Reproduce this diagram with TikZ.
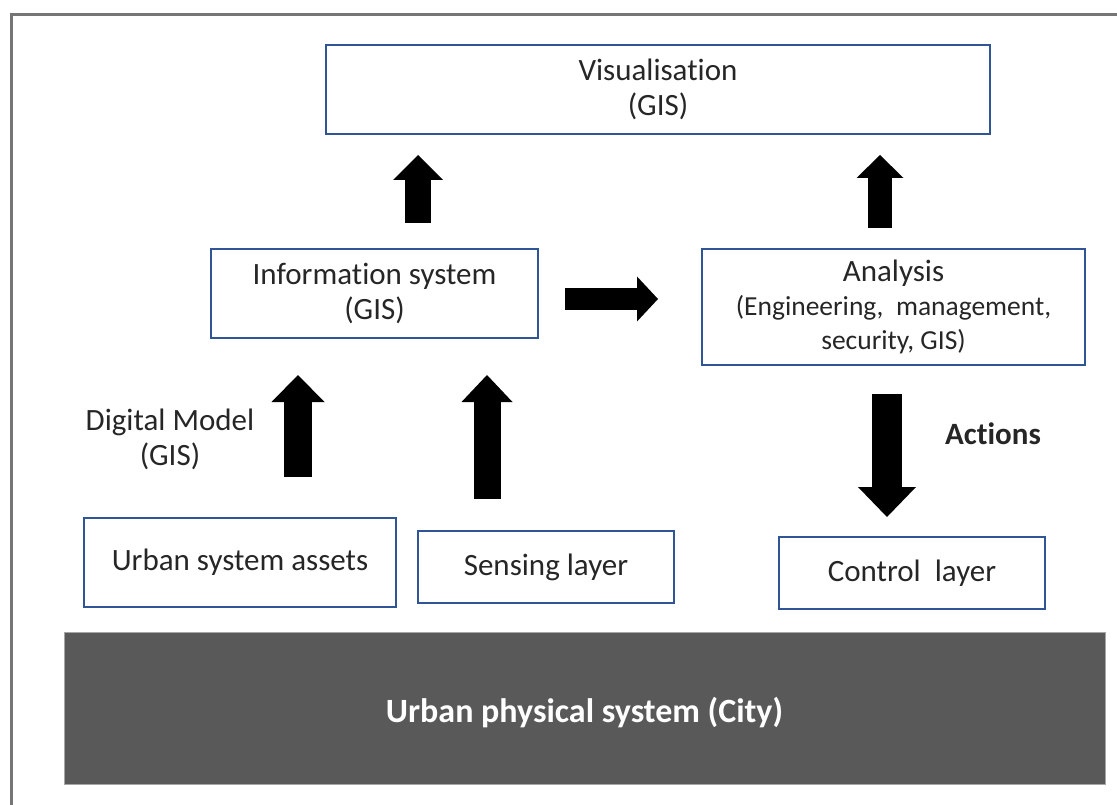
\documentclass[tikz,border=0pt]{standalone}
\usepackage{fontspec}
\setmainfont[Ligatures=NoCommon]{Carlito}
\usetikzlibrary{arrows.meta}
\usetikzlibrary{positioning}
\definecolor{boxblue}{HTML}{2F5597}
\definecolor{framegray}{HTML}{767676}
\definecolor{citygray}{HTML}{595959}
\definecolor{txtgray}{HTML}{262626}
\tikzset{
    layerbox/.style={draw=boxblue, line width=2.5pt, align=center, inner sep=0pt,
        text=txtgray, font=\fontsize{31}{35}\selectfont},
    citybox/.style={draw=gray!70, fill=citygray, line width=1pt, inner sep=0pt,
        text=white, font=\fontsize{34}{40}\selectfont\bfseries},
    plainlabel/.style={align=center, inner sep=0pt, text=txtgray,
        font=\fontsize{31}{35}\selectfont},
    fatarrow/.style n args={3}{draw=black, line width=#1,
        -{Triangle[width=#2, length=#3, line width=0pt]}}
}
\begin{document}
\begin{tikzpicture}[x=1pt,y=-1pt]
	\useasboundingbox (0,0) rectangle (1117,805);
	\draw[framegray, line width=3pt] (11,805) -- (11,15) -- (1117,15);
	% layers
	\node[layerbox, minimum width=664pt, minimum height=89pt] (vis) at (658,89.5) {Visualisation\\(GIS)};
	\node[layerbox, minimum width=327pt, minimum height=89pt] (info) at (374.5,293.5) {Information system\\(GIS)};
	\node[layerbox, minimum width=383pt, minimum height=116pt] (ana) at (893.5,307)
		{Analysis\\[-1pt]{\fontsize{27.5}{34}\selectfont (Engineering,\ \ management,}\\[-1pt]{\fontsize{27.5}{34}\selectfont security, GIS)}};
	\node[layerbox, minimum width=312pt, minimum height=89pt] (assets) at (240,562.5) {Urban system assets};
	\node[layerbox, minimum width=256pt, minimum height=72pt] (sensing) at (546,567) {Sensing layer};
	\node[layerbox, minimum width=266pt, minimum height=72pt] (control) at (912,573) {Control\ \ layer};
	\node[citybox, minimum width=1041pt, minimum height=152pt, text height=34pt] (city) at (584.5,708) {Urban physical system (City)};
	% labels
	\node[plainlabel] (digital) at (170,439.5) {Digital Model\\(GIS)};
	\node[plainlabel, font=\fontsize{31}{35}\selectfont\bfseries] (actions) at (993,434) {Actions};
	% arrow ends
	\coordinate (infoOut) at (418,223);
	\coordinate (visInL) at (418,155);
	\coordinate (anaOut) at (880,228);
	\coordinate (visInR) at (880,155);
	\coordinate (infoToAna) at (565,299);
	\coordinate (anaIn) at (658,299);
	\coordinate (assetsOut) at (298,477);
	\coordinate (infoInL) at (298,375);
	\coordinate (sensingOut) at (487,499);
	\coordinate (infoInR) at (487,375);
	\coordinate (anaDown) at (887,394);
	\coordinate (controlIn) at (887,517);
	\draw[fatarrow={26pt}{50pt}{25pt}] (infoOut) -- (visInL);
	\draw[fatarrow={24pt}{47pt}{23pt}] (anaOut) -- (visInR);
	\draw[fatarrow={22pt}{45pt}{21pt}] (infoToAna) -- (anaIn);
	\draw[fatarrow={28pt}{53pt}{27pt}] (assetsOut) -- (infoInL);
	\draw[fatarrow={27pt}{51pt}{27pt}] (sensingOut) -- (infoInR);
	\draw[fatarrow={30pt}{58pt}{30pt}] (anaDown) -- (controlIn);
\end{tikzpicture}
\end{document}
